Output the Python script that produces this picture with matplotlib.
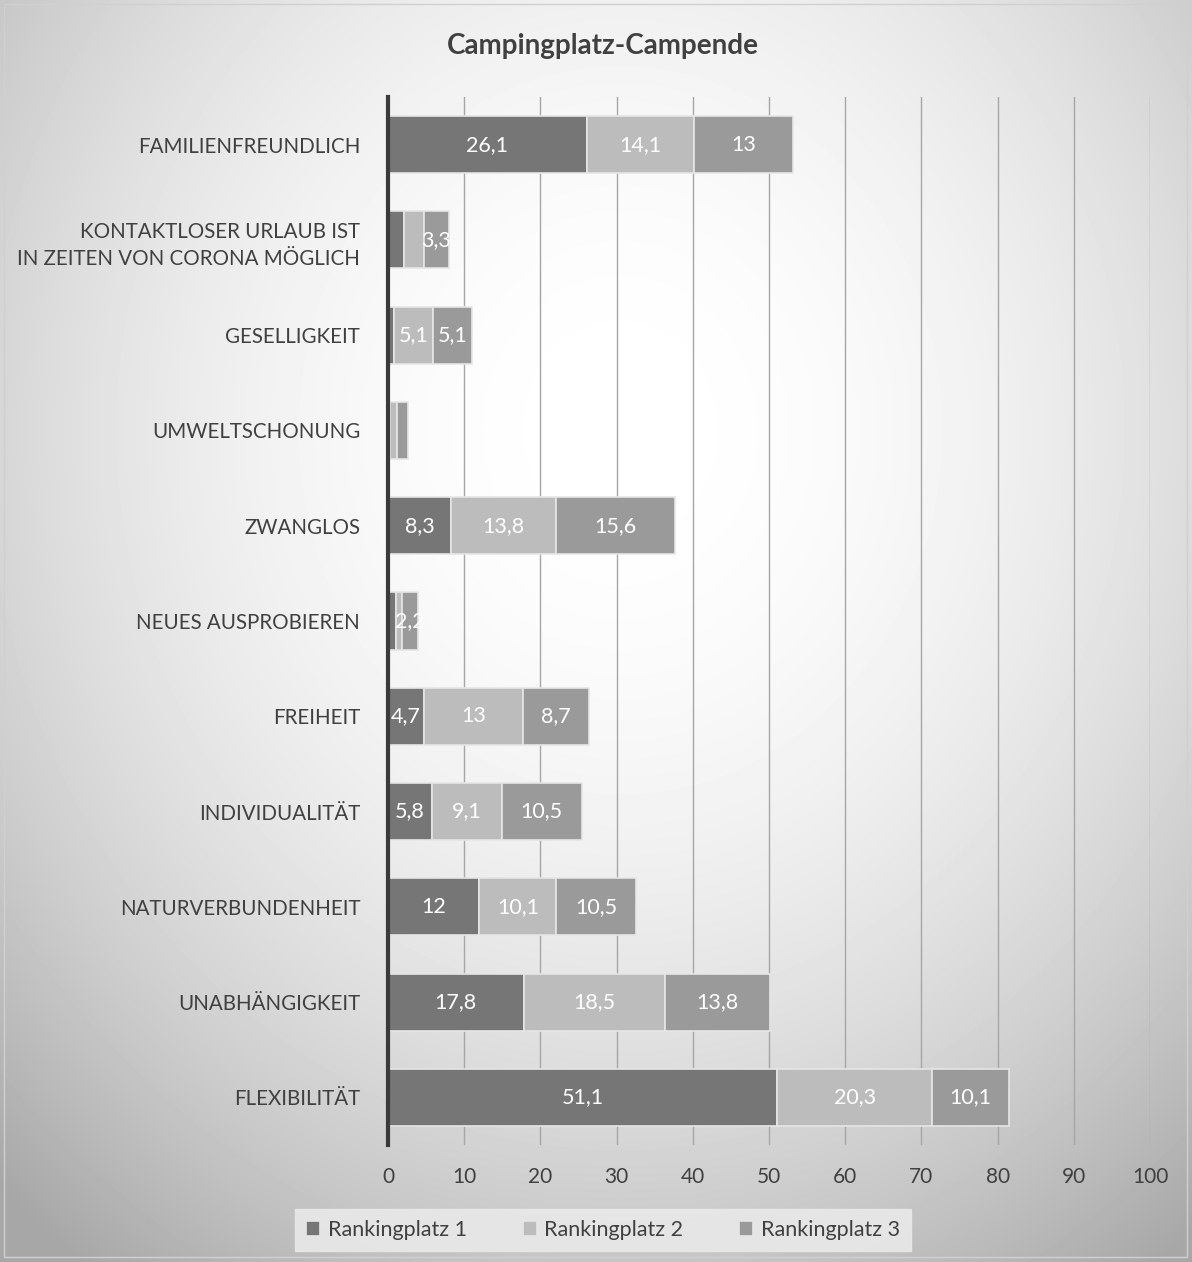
import numpy as np
import matplotlib.pyplot as plt
from matplotlib.patches import Rectangle

# data (top to bottom)
categories = ['FAMILIENFREUNDLICH',
              'KONTAKTLOSER URLAUB IST\nIN ZEITEN VON CORONA MÖGLICH',
              'GESELLIGKEIT', 'UMWELTSCHONUNG', 'ZWANGLOS', 'NEUES AUSPROBIEREN',
              'FREIHEIT', 'INDIVIDUALITÄT', 'NATURVERBUNDENHEIT', 'UNABHÄNGIGKEIT',
              'FLEXIBILITÄT']
platz1 = [26.1, 2.1, 0.8, 0.3, 8.3, 1.0, 4.7, 5.8, 12, 17.8, 51.1]
platz2 = [14.1, 2.6, 5.1, 0.9, 13.8, 0.8, 13, 9.1, 10.1, 18.5, 20.3]
platz3 = [13, 3.3, 5.1, 1.4, 15.6, 2.2, 8.7, 10.5, 10.5, 13.8, 10.1]
series_names = ['Rankingplatz 1', 'Rankingplatz 2', 'Rankingplatz 3']
colors = ['#767676', '#bcbcbc', '#9a9a9a']

plt.rcParams['font.family'] = ['Lato', 'DejaVu Sans']

W, H = 1192, 1262
fig = plt.figure(figsize=(W / 100, H / 100), dpi=100)

# radial grey background
bg = fig.add_axes([0, 0, 1, 1], zorder=0)
yy, xx = np.mgrid[0:H, 0:W]
r = np.sqrt(((xx - 620) / 760.0) ** 2 + ((yy - 430) / 860.0) ** 2)
shade = 1.0 - 0.24 * np.clip(r, 0, 1.2) ** 2.0
bg.imshow(shade, cmap='gray', vmin=0, vmax=1, aspect='auto', extent=[0, W, H, 0])
bg.add_patch(Rectangle((4, 4), W - 9, H - 9, fill=False, edgecolor='#d0d0d0', lw=1))
bg.set_xlim(0, W)
bg.set_ylim(H, 0)
bg.axis('off')

ax = fig.add_axes([388 / W, 1 - 1145 / H, (1150 - 388) / W, (1145 - 97) / H], zorder=1)
ax.patch.set_alpha(0)

y = np.arange(len(categories))
left = np.zeros(len(categories))
handles = []
for si, (vals, col) in enumerate(zip([platz1, platz2, platz3], colors)):
    vals = np.array(vals, dtype=float)
    bars = ax.barh(y, vals, left=left, height=0.6, color=col, edgecolor='#e6e6e6',
                   linewidth=1.2, label=series_names[si], zorder=3)
    handles.append(bars)
    for b, v, l in zip(bars, vals, left):
        show = v >= 3 or (si == 2 and v >= 2)
        if not show:
            continue
        txt = ('%.1f' % v).rstrip('0').rstrip('.').replace('.', ',')
        t = ax.text(l + v / 2, b.get_y() + b.get_height() / 2, txt, ha='center',
                    va='center', color='white', fontsize=15.5, zorder=4)
        t.set_clip_path(b)
    left = left + vals

ax.set_xlim(0, 100)
ax.set_ylim(len(categories) - 0.5, -0.5)
ax.set_xticks(range(0, 101, 10))
ax.xaxis.grid(True, color='#a6a6a6', lw=1, zorder=0)
ax.set_yticks(y)
ax.set_yticklabels(categories, fontsize=14.8, color='#404040', linespacing=1.45)
ax.tick_params(axis='y', length=0, pad=20)
ax.tick_params(axis='x', length=0, pad=16, labelsize=15, labelcolor='#404040')
for s in ['top', 'right', 'bottom']:
    ax.spines[s].set_visible(False)
ax.spines['left'].set_color('#3a3a3a')
ax.spines['left'].set_linewidth(3)
ax.spines['left'].set_zorder(5)

fig.text(603 / W, 1 - 46 / H, 'Campingplatz-Campende', ha='center', va='center',
         fontsize=20, fontweight='bold', color='#404040')

leg = fig.legend(handles=handles, loc='center', bbox_to_anchor=(603 / W, 1 - 1230 / H),
                 ncol=3, frameon=True, fontsize=15.5, handlelength=0.65, handleheight=0.65,
                 handletextpad=0.35, columnspacing=2.6, borderpad=0.5, fancybox=False,
                 labelcolor='#404040', borderaxespad=0)
leg.get_frame().set_facecolor('#e9e9e9')
leg.get_frame().set_edgecolor('#e9e9e9')
leg.get_frame().set_alpha(0.9)

fig.savefig('out.png', dpi=100)
